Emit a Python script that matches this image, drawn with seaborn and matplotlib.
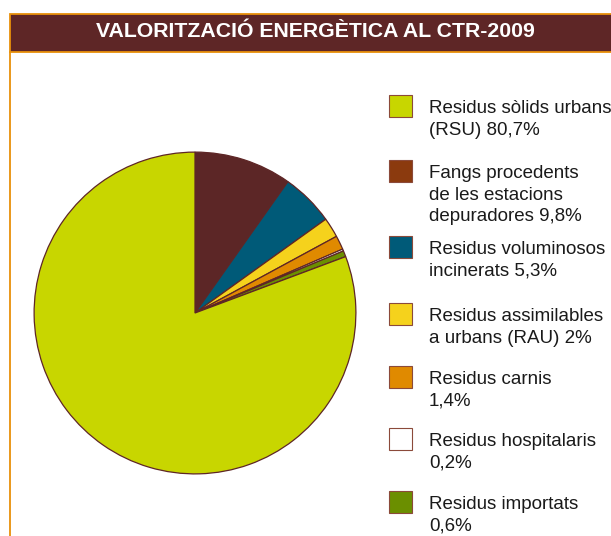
import matplotlib
matplotlib.use("Agg")
import matplotlib.pyplot as plt
from matplotlib.patches import Rectangle
import numpy as np
import seaborn as sns

# data (legend order)
categories = [
    "Residus sòlids urbans\n(RSU) 80,7%",
    "Fangs procedents\nde les estacions\ndepuradores 9,8%",
    "Residus voluminosos\nincinerats 5,3%",
    "Residus assimilables\na urbans (RAU) 2%",
    "Residus carnis\n1,4%",
    "Residus hospitalaris\n0,2%",
    "Residus importats\n0,6%",
]
shares = [80.7, 9.8, 5.3, 2.0, 1.4, 0.2, 0.6]
pie_colors = ["#c8d600", "#5c2626", "#005a78", "#f5d21c", "#e08a00", "#ffffff", "#6b8f00"]
swatch_colors = ["#c8d600", "#8b3a0e", "#005a78", "#f5d21c", "#e08a00", "#ffffff", "#6b8f00"]
title = "VALORITZACIÓ ENERGÈTICA AL CTR-2009"

sns.set_theme(style="white")
plt.rcParams["font.family"] = ["Liberation Sans", "DejaVu Sans"]

W, H = 611, 536
BROWN = "#5e2626"
ORANGE = "#e8900a"

fig = plt.figure(figsize=(W / 100, H / 100), dpi=100)
fig.patch.set_facecolor("white")

# overlay axes in pixel coordinates for the frame and legend
bg = fig.add_axes([0, 0, 1, 1])
bg.set_xlim(0, W)
bg.set_ylim(H, 0)
bg.axis("off")

bg.add_patch(Rectangle((9.5, 14), 640, 38, facecolor=BROWN, edgecolor=ORANGE, lw=1.3))
bg.plot([9.8, 9.8], [52, H], color=ORANGE, lw=1.3)
bg.text(315, 37, title, color="white", fontsize=15.3, fontweight="bold",
        ha="center", va="baseline")

# pie: starts at 12 o'clock, clockwise, RSU last
order = list(range(1, len(shares))) + [0]
pie_ax = fig.add_axes([32.5 / W, (H - 475.5) / H, 325 / W, 325 / H])
pie_ax.pie([shares[i] for i in order], colors=[pie_colors[i] for i in order],
           startangle=90, counterclock=False, radius=1,
           wedgeprops=dict(edgecolor=BROWN, linewidth=0.9))
pie_ax.set_xlim(-1.01, 1.01)
pie_ax.set_ylim(-1.01, 1.01)
pie_ax.set_aspect("equal")
pie_ax.axis("off")

# legend with swatch aligned to the first text line
legend_tops = [95, 160, 236, 303, 366, 428, 491]
for top, lab, col in zip(legend_tops, categories, swatch_colors):
    bg.add_patch(Rectangle((388.5, top), 23, 22, facecolor=col,
                           edgecolor="#8b4a3a", lw=0.8))
    bg.text(429, top + 5, lab, fontsize=13.5, color="#1a1a1a",
            ha="left", va="top", linespacing=1.36)

fig.savefig("out.png", dpi=100)
